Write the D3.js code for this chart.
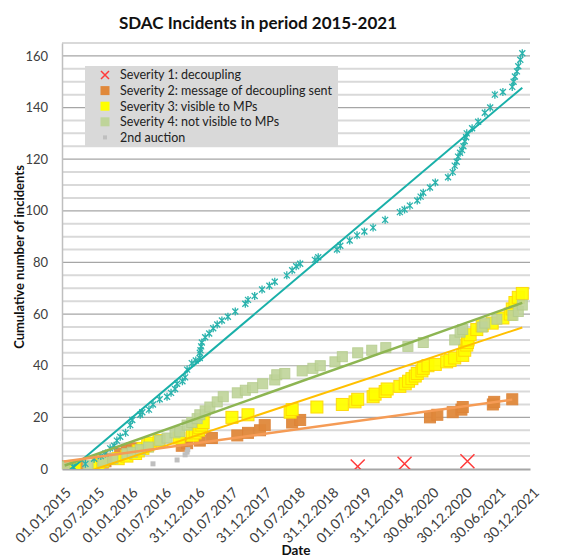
<!DOCTYPE html>
<html>
<head>
<meta charset="utf-8">
<script src="https://cdn.jsdelivr.net/npm/d3@7"></script>
<style>
  body { margin: 0; background: #fff; }
  text { font-family: Lato, "Open Sans", sans-serif; }
</style>
</head>
<body>
<div id="chart"></div>
<script>
// x values are decimal years, y values cumulative counts
var severity1 = [[2019.42, 1], [2020.12, 2], [2021.06, 3]];

var severity2 = [[2015.03, 1], [2015.27, 1.5], [2015.61, 2.5], [2015.65, 3], [2015.72, 4], [2015.87, 6], [2015.97, 7],
  [2016.05, 8], [2016.79, 9], [2016.87, 10], [2017.06, 11], [2017.24, 12], [2017.62, 13], [2017.78, 14],
  [2017.96, 15], [2018.03, 17], [2018.44, 18], [2018.56, 19], [2020.50, 20], [2020.61, 21], [2020.84, 22],
  [2020.97, 23], [2020.99, 24], [2021.44, 25], [2021.46, 26], [2021.73, 27]];

var severity3 = [[2015.19, 1], [2015.54, 2], [2015.61, 3], [2015.84, 4], [2015.97, 5], [2016.10, 6], [2016.14, 7],
  [2016.21, 8], [2016.28, 9], [2016.32, 10], [2016.45, 11], [2016.75, 12], [2016.95, 13], [2016.99, 14],
  [2017.04, 15], [2017.06, 16], [2017.09, 17], [2017.11, 18], [2017.54, 20], [2017.78, 21], [2018.41, 22],
  [2018.44, 23], [2018.81, 24], [2019.19, 25], [2019.38, 26], [2019.42, 27], [2019.65, 28], [2019.68, 29],
  [2019.83, 30], [2019.86, 31], [2020.05, 32], [2020.13, 33], [2020.18, 34], [2020.23, 35], [2020.28, 36],
  [2020.31, 37], [2020.38, 38], [2020.40, 39], [2020.47, 40], [2020.58, 40.5], [2020.75, 41.5], [2020.80, 42],
  [2020.87, 43], [2020.99, 44], [2021.02, 46], [2021.05, 48], [2021.06, 49], [2021.07, 50], [2021.10, 52],
  [2021.20, 54], [2021.28, 55.5], [2021.43, 56.5], [2021.59, 58.5], [2021.70, 60], [2021.73, 62],
  [2021.77, 64.5], [2021.82, 66.5], [2021.88, 68]];

var severity4 = [[2015.04, 1], [2015.39, 1.5], [2015.61, 3], [2015.76, 4], [2015.97, 6], [2016.05, 6.5], [2016.17, 7.5],
  [2016.29, 8.5], [2016.46, 11], [2016.57, 12], [2016.69, 14], [2016.76, 14.5], [2016.87, 17], [2016.94, 18],
  [2017.02, 19.5], [2017.06, 21], [2017.14, 22.5], [2017.21, 24], [2017.32, 26], [2017.41, 28], [2017.62, 29.5],
  [2017.74, 30.5], [2017.85, 31.5], [2018.00, 33], [2018.18, 34.5], [2018.21, 36.5], [2018.33, 37], [2018.59, 38],
  [2018.75, 39], [2018.86, 40], [2019.08, 41.5], [2019.19, 43.5], [2019.42, 45], [2019.63, 46], [2019.84, 47],
  [2020.17, 47.5], [2020.40, 49], [2020.87, 50], [2020.95, 53], [2020.99, 54], [2021.28, 55], [2021.32, 56.5],
  [2021.50, 58], [2021.74, 59.5], [2021.82, 61], [2021.88, 63.5]];

var auction2 = [[2016.36, 2], [2016.72, 3.5], [2016.84, 5.5], [2016.87, 6.5], [2016.88, 7.5]];

var total = [[2015.16, 1], [2015.35, 2], [2015.48, 4], [2015.58, 5], [2015.65, 6], [2015.72, 8], [2015.78, 9],
  [2015.82, 11], [2015.87, 12.5], [2015.95, 14], [2016.02, 17], [2016.05, 19], [2016.17, 21], [2016.20, 22],
  [2016.30, 23], [2016.36, 25], [2016.46, 27], [2016.57, 28], [2016.63, 29.5], [2016.69, 31], [2016.72, 33],
  [2016.80, 34], [2016.84, 35.5], [2016.87, 38.5], [2016.94, 41], [2017.00, 42], [2017.06, 43], [2017.06, 45],
  [2017.07, 46], [2017.08, 47.5], [2017.09, 49], [2017.14, 51], [2017.20, 52.5], [2017.26, 54.5], [2017.32, 56],
  [2017.39, 57.5], [2017.48, 59], [2017.59, 61], [2017.74, 64], [2017.78, 65.5], [2017.88, 67], [2017.99, 69.5],
  [2018.10, 71], [2018.18, 72.5], [2018.36, 75], [2018.44, 77], [2018.50, 78.5], [2018.56, 79.5], [2018.78, 81],
  [2018.83, 82], [2019.11, 85], [2019.16, 86.5], [2019.30, 88.5], [2019.41, 90.5], [2019.52, 92], [2019.65, 93.5],
  [2019.83, 96.5], [2020.05, 99.5], [2020.12, 100.5], [2020.20, 102], [2020.31, 104], [2020.36, 105.5],
  [2020.40, 107], [2020.50, 109], [2020.58, 111], [2020.77, 113], [2020.84, 115], [2020.87, 117.5],
  [2020.90, 119], [2020.92, 121], [2020.95, 122.5], [2020.98, 123.5], [2021.00, 125], [2021.02, 127],
  [2021.04, 128.5], [2021.05, 130], [2021.13, 132], [2021.22, 134.5], [2021.32, 138], [2021.40, 140],
  [2021.47, 145], [2021.59, 146], [2021.73, 148], [2021.75, 150], [2021.77, 152], [2021.80, 154],
  [2021.82, 156], [2021.85, 158.5], [2021.88, 161]];

var xTickLabels = ["01.01.2015", "02.07.2015", "01.01.2016", "01.07.2016", "31.12.2016", "01.07.2017",
  "31.12.2017", "01.07.2018", "31.12.2018", "01.07.2019", "31.12.2019", "30.06.2020", "30.12.2020",
  "30.06.2021", "30.12.2021"];
var yTicks = [0, 20, 40, 60, 80, 100, 120, 140, 160];

var legendLabels = ["Severity 1: decoupling", "Severity 2: message of decoupling sent",
  "Severity 3: visible to MPs", "Severity 4: not visible to MPs", "2nd auction"];

var width = 585, height = 560,
  margins = {"top": 43, "bottom": 91, "left": 62, "right": 55},
  dayMs = 864e5,
  startDate = Date.UTC(2015, 0, 1),
  stepDays = 182.5;

function toDate(yr) { return new Date(startDate + (yr - 2015) * 365.25 * dayMs); }

var svg = d3.select("#chart").append("svg")
  .attr("width", width)
  .attr("height", height);

var xScale = d3.scaleUtc()
  .domain([new Date(startDate), new Date(startDate + 14 * stepDays * dayMs)])
  .range([margins.left, width - margins.right]);

var yScale = d3.scaleLinear()
  .domain([0, 165])
  .range([height - margins.bottom, margins.top]);

// gridlines
svg.append("g").selectAll("line.minor")
  .data(d3.range(5, 166, 5).filter(function(d) { return d % 20 != 0; }))
  .enter().append("line")
  .attr("x1", margins.left).attr("x2", width - margins.right)
  .attr("y1", function(d) { return yScale(d); }).attr("y2", function(d) { return yScale(d); })
  .style("stroke", "#d9d9d9").style("stroke-width", 2);

svg.append("g").selectAll("line.major")
  .data(yTicks.filter(function(d) { return d > 0; }))
  .enter().append("line")
  .attr("x1", margins.left).attr("x2", width - margins.right)
  .attr("y1", function(d) { return yScale(d); }).attr("y2", function(d) { return yScale(d); })
  .style("stroke", "#a6a6a6").style("stroke-width", 1.2);

// y axis
var yAxis = d3.axisLeft(yScale).tickValues(yTicks).tickSize(0).tickPadding(14);
var yG = svg.append("g").attr("transform", "translate(" + margins.left + ",0)").call(yAxis);
yG.select(".domain").style("stroke", "#bfbfbf").style("stroke-width", 1.5);
yG.selectAll("text").style("font-size", "13px").style("fill", "#404040");

// x axis
var xTickValues = d3.range(15).map(function(i) { return new Date(startDate + i * stepDays * dayMs); });
var xAxis = d3.axisBottom(xScale).tickValues(xTickValues).tickSize(0)
  .tickFormat(function(d, i) { return xTickLabels[i]; });
var xG = svg.append("g").attr("transform", "translate(0," + yScale(0) + ")").call(xAxis);
xG.select(".domain").style("stroke", "#a6a6a6").style("stroke-width", 2);
xG.selectAll("text")
  .style("font-size", "14px").style("fill", "#404040")
  .style("text-anchor", "end")
  .attr("y", 0).attr("dy", "0.35em")
  .attr("transform", "translate(6,21) rotate(-45)");

// titles
svg.append("text").text("SDAC Incidents in period 2015-2021")
  .attr("x", 258).attr("y", 29).style("text-anchor", "middle")
  .style("font-size", "17px").style("font-weight", "bold").style("fill", "#111");

svg.append("text").text("Cumulative number of incidents")
  .attr("transform", "translate(24,257) rotate(-90)").style("text-anchor", "middle")
  .style("font-size", "13px").style("font-weight", "bold").style("fill", "#111");

svg.append("text").text("Date")
  .attr("x", 296).attr("y", 555).style("text-anchor", "middle")
  .style("font-size", "13.5px").style("font-weight", "bold").style("fill", "#111");

// data marks
svg.append("clipPath").attr("id", "plotClip").append("rect")
  .attr("x", margins.left).attr("y", margins.top)
  .attr("width", width - margins.left - margins.right)
  .attr("height", yScale(0) - margins.top);

var plot = svg.append("g").attr("clip-path", "url(#plotClip)");

function squares(data, size, fill, stroke, opacity) {
  plot.append("g").selectAll("rect")
    .data(data).enter().append("rect")
    .attr("x", function(d) { return xScale(toDate(d[0])) - size / 2; })
    .attr("y", function(d) { return yScale(d[1]) - size / 2; })
    .attr("width", size).attr("height", size)
    .style("fill", fill).style("stroke", stroke).style("stroke-width", 1)
    .style("opacity", opacity);
}

squares(severity2, 11, "#e0883b", "#dd8438", 0.95);
squares(severity3, 12, "#ffff00", "#ffd800", 0.95);
squares(severity4, 10, "#bfd49a", "#b5cc8c", 0.9);
squares(auction2, 5, "#bfbfbf", "none", 1);

var star = plot.append("g").selectAll("g")
  .data(total).enter().append("g")
  .attr("transform", function(d) { return "translate(" + xScale(toDate(d[0])) + "," + yScale(d[1]) + ")"; })
  .style("stroke", "#2ab3ad").style("stroke-width", 1.3);
star.append("path").attr("d", "M-3,-3L3,3M-3,3L3,-3M0,-4L0,4");

var redX = plot.append("g").selectAll("path")
  .data(severity1).enter().append("path")
  .attr("transform", function(d) { return "translate(" + xScale(toDate(d[0])) + "," + yScale(d[1]) + ")"; })
  .attr("d", "M-7,-7L7,7M-7,7L7,-7")
  .style("stroke", "#ff3b3b").style("stroke-width", 1.5);

// linear trendlines (least squares, like the spreadsheet)
function trend(data, color, w) {
  var pts = data.map(function(d) { return [+toDate(d[0]), d[1]]; });
  var mx = d3.mean(pts, function(d) { return d[0]; }),
    my = d3.mean(pts, function(d) { return d[1]; });
  var sxy = d3.sum(pts, function(d) { return (d[0] - mx) * (d[1] - my); }),
    sxx = d3.sum(pts, function(d) { return (d[0] - mx) * (d[0] - mx); });
  var b = sxy / sxx, a = my - b * mx;
  var x0 = d3.min(pts, function(d) { return d[0]; }), x1 = d3.max(pts, function(d) { return d[0]; });
  plot.append("line")
    .attr("x1", xScale(new Date(x0))).attr("y1", yScale(a + b * x0))
    .attr("x2", xScale(new Date(x1))).attr("y2", yScale(a + b * x1))
    .style("stroke", color).style("stroke-width", w);
}

trend(total, "#19b0a9", 2);
trend(severity4, "#8db552", 2.5);
trend(severity3, "#ffc000", 2);
trend(severity2, "#f59b55", 2.5);

// legend
var legend = svg.append("g").attr("transform", "translate(85,66)");
legend.append("rect").attr("width", 253).attr("height", 80).style("fill", "#d9d9d9");

var rows = legend.selectAll("g.row")
  .data(legendLabels).enter().append("g")
  .attr("transform", function(d, i) { return "translate(0," + (9 + i * 15.6) + ")"; });

rows.append("text").text(function(d) { return d; })
  .attr("x", 35).attr("dy", "0.35em")
  .style("font-size", "12.5px").style("fill", "#222");

rows.filter(function(d, i) { return i == 0; }).append("path")
  .attr("d", "M16,-4L24,4M16,4L24,-4").style("stroke", "#ff3b3b").style("stroke-width", 1.5);
var legendSq = [null, ["#e0883b", 9], ["#ffff00", 9], ["#bfd49a", 9], ["#bfbfbf", 4]];
rows.filter(function(d, i) { return i > 0; }).append("rect")
  .attr("x", function(d) { var s = legendSq[legendLabels.indexOf(d)]; return 20 - s[1] / 2; })
  .attr("y", function(d) { var s = legendSq[legendLabels.indexOf(d)]; return -s[1] / 2; })
  .attr("width", function(d) { return legendSq[legendLabels.indexOf(d)][1]; })
  .attr("height", function(d) { return legendSq[legendLabels.indexOf(d)][1]; })
  .style("fill", function(d) { return legendSq[legendLabels.indexOf(d)][0]; });
</script>
</body>
</html>
